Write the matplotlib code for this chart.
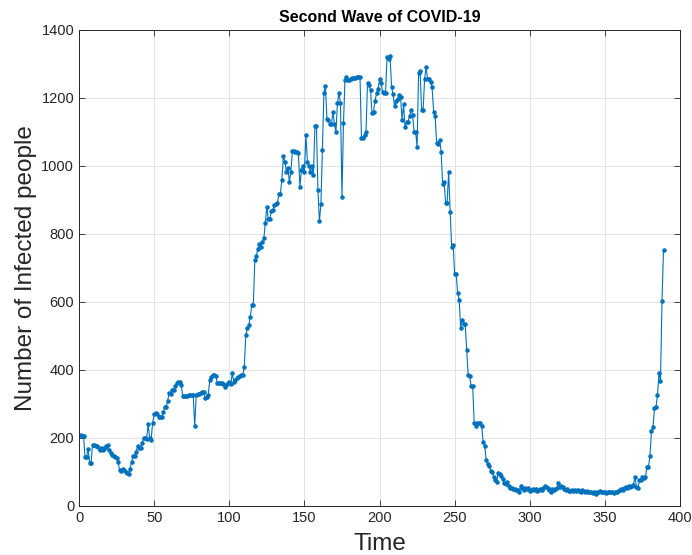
import numpy as np
import matplotlib
matplotlib.use("Agg")
import matplotlib.pyplot as plt

# Daily infected counts, time steps 1..389
early_phase = [
    209, 205, 205, 143, 143, 168, 126, 126, 180, 178,
    175, 175, 170, 165, 170, 165, 172, 175, 178, 165,
    155, 150, 148, 145, 140, 130, 105, 102, 108, 105,
    100, 98, 95, 110, 130, 148, 148, 160, 175, 172,
    170, 185, 200, 200, 198, 240, 200, 195, 245, 270,
    273, 270, 263, 262, 262, 275, 292, 290, 310, 331,
    329, 341, 341, 353, 361, 366, 366, 356, 323, 323,
    323, 323, 325, 325, 326, 326, 236, 326, 328, 330,
    333, 335, 336, 317, 320, 326, 370, 380, 385, 386,
    382, 363, 362, 362, 363, 360, 351, 355, 362, 365,
    359, 390, 366, 370, 375, 380, 381, 385, 385, 410,
]
rise_phase = [
    503, 523, 532, 557, 591, 591, 723, 735, 755, 770,
    763, 777, 787, 833, 880, 843, 843, 868, 870, 885,
    888, 890, 918, 918, 959, 1029, 1013, 983, 993, 954,
    983, 1045, 1045, 1040, 1040, 1037, 939, 988, 1000, 983,
    1091, 1013, 1000, 983, 1000, 973, 1118, 1118, 929, 838,
]
peak_phase = [
    888, 1047, 1216, 1235, 1137, 1134, 1122, 1122, 1160, 1122,
    1101, 1184, 1216, 1184, 908, 1125, 1253, 1263, 1253, 1253,
    1255, 1258, 1258, 1260, 1263, 1263, 1263, 1081, 1081, 1091,
    1101, 1243, 1238, 1223, 1155, 1160, 1191, 1214, 1225, 1255,
    1245, 1218, 1214, 1214, 1320, 1314, 1324, 1233, 1211, 1175,
    1191, 1196, 1209, 1204, 1135, 1182, 1114, 1130, 1130, 1147,
    1165, 1150, 1101, 1101, 1057, 1274, 1279, 1165, 1165, 1255,
    1290, 1255, 1255, 1248, 1231, 1160, 1147, 1067, 1065, 1076,
]
decline_phase = [
    1042, 947, 953, 892, 892, 983, 866, 763, 768, 682,
    682, 625, 606, 523, 547, 535, 535, 459, 385, 381,
    353, 353, 245, 235, 245, 245, 243, 235, 187, 176,
    135, 124, 118, 104, 101, 86, 76, 71, 98, 95,
]
trough_phase = [
    88, 78, 67, 65, 71, 59, 52, 52, 50, 50,
    48, 47, 42, 59, 54, 47, 52, 50, 52, 45,
    47, 50, 48, 50, 45, 47, 50, 48, 52, 59,
    55, 52, 47, 42, 50, 47, 50, 52, 67, 55,
    60, 55, 50, 47, 50, 45, 45, 47, 45, 47,
    45, 48, 45, 42, 48, 45, 42, 45, 42, 40,
    42, 38, 40, 35, 40, 42, 45, 40, 42, 40,
    38, 42, 40, 42, 40, 38, 40, 42, 45, 47,
    50, 48, 52, 55, 52, 58, 57, 60, 62,
]
third_rise = [
    86, 57, 52, 76, 75, 86, 81, 84, 116, 116,
    147, 222, 231, 287, 292, 326, 390, 369, 603, 753,
]

infected = early_phase + rise_phase + peak_phase + decline_phase + trough_phase + third_rise
time = np.arange(1, len(infected) + 1)

x_ticks = [0, 50, 100, 150, 200, 250, 300, 350, 400]
y_ticks = [0, 200, 400, 600, 800, 1000, 1200, 1400]

plt.rcParams['font.family'] = ['Liberation Sans', 'DejaVu Sans']

fig = plt.figure(figsize=(6.92, 5.55), dpi=100)
ax = fig.add_axes([0.1142, 0.0883, 0.8685, 0.8577])

ax.plot(time, infected, color='#0072BD', linewidth=0.8, marker='.', markersize=4.5)

ax.set_xlim(0, 400)
ax.set_ylim(0, 1400)
ax.set_xticks(x_ticks)
ax.set_yticks(y_ticks)
ax.tick_params(direction='in', top=True, right=True, labelsize=10.5, length=4,
               width=0.6, colors='#262626')
ax.grid(True, color='#e3e3e3', linewidth=0.7)
ax.set_axisbelow(True)
for s in ax.spines.values():
    s.set_linewidth(0.7)
    s.set_color('#262626')

ax.set_title('Second Wave of COVID-19', fontsize=11.5, fontweight='bold', pad=6)
ax.set_xlabel('Time', fontsize=17.5, labelpad=6, color='#262626')
ax.set_ylabel('Number of Infected people', fontsize=17.5, labelpad=3, color='#262626')

fig.savefig('out.png', dpi=100)
